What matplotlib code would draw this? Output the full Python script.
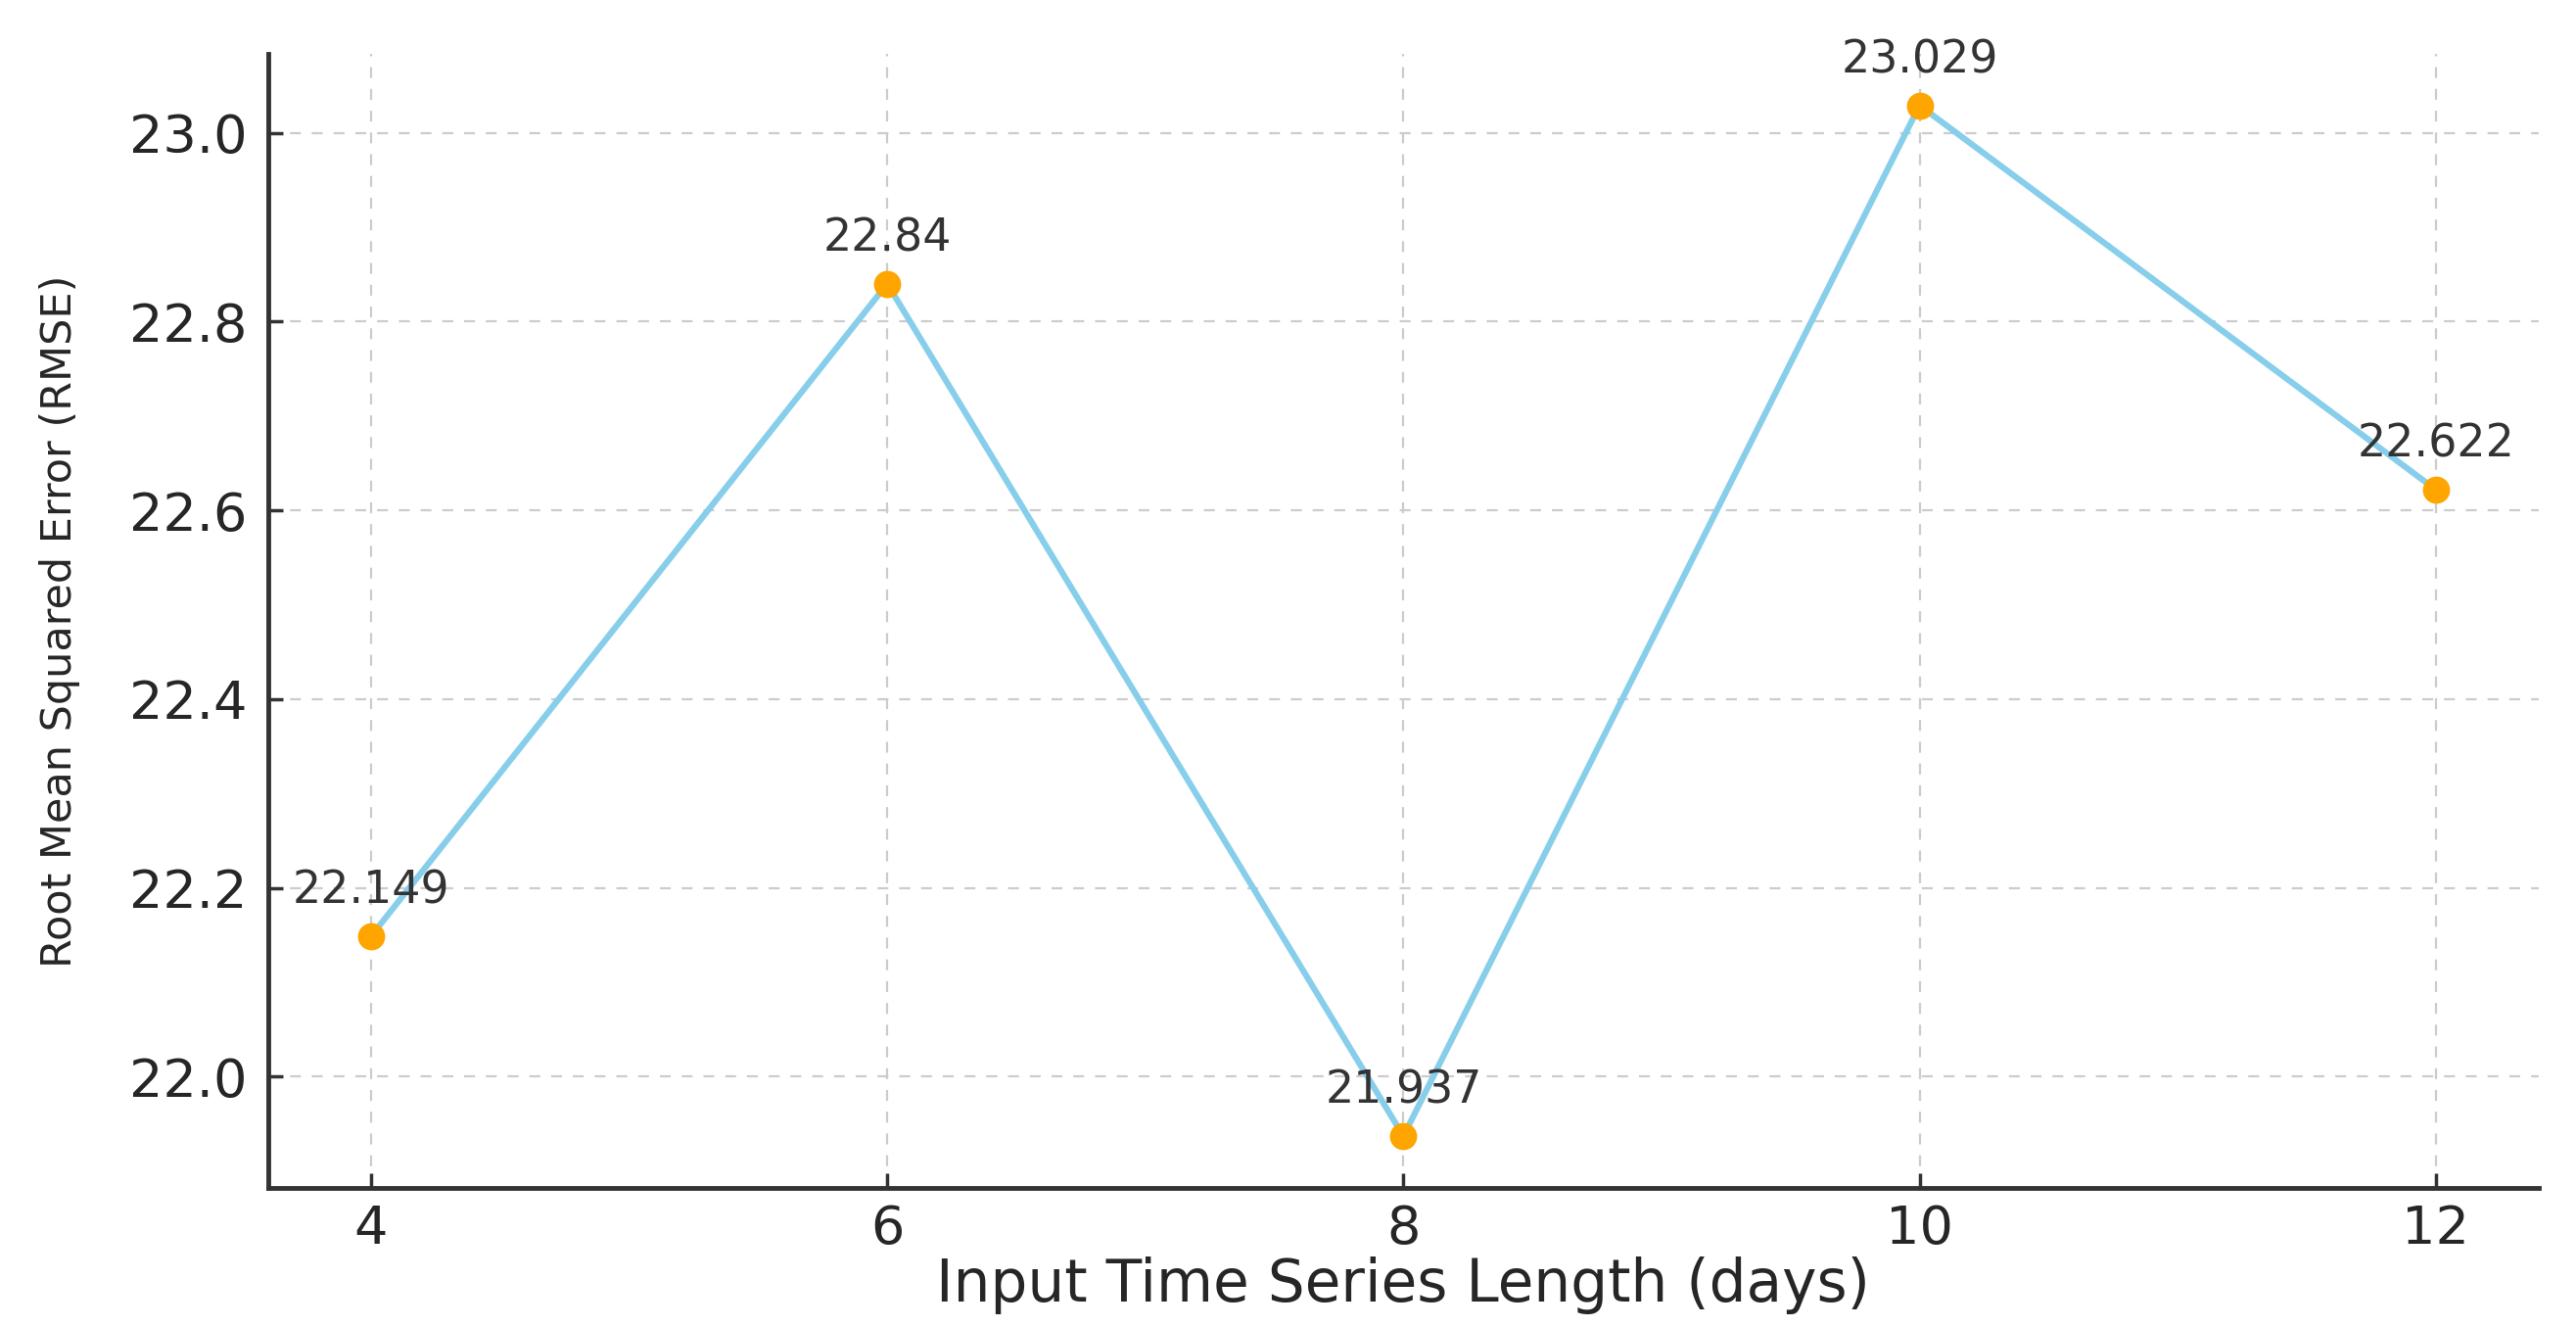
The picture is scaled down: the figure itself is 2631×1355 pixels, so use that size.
import matplotlib
matplotlib.use("Agg")
import matplotlib.pyplot as plt

# input length (days) vs RMSE
days = [4, 6, 8, 10, 12]
rmse = [22.149, 22.84, 21.937, 23.029, 22.622]
labels = ["22.149", "22.84", "21.937", "23.029", "22.622"]

fig = plt.figure(figsize=(26.31, 13.55), dpi=100)
ax = fig.add_axes([0.104, 0.105, 0.8816, 0.8544])

ax.plot(days, rmse, color="skyblue", linewidth=4.5, zorder=2)
ax.plot(days, rmse, "o", color="orange", markersize=19, zorder=3)

for x, y, s in zip(days, rmse, labels):
    ax.annotate(s, (x, y), xytext=(0, 24), textcoords="offset points",
                ha="center", fontsize=33, color="#333333")

ax.set_xticks(days)
ax.set_yticks([22.0, 22.2, 22.4, 22.6, 22.8, 23.0])
ax.set_yticklabels(["22.0", "22.2", "22.4", "22.6", "22.8", "23.0"])

ax.grid(True, color="#cccccc", linestyle=(0, (5, 5)), linewidth=1.6)
ax.set_axisbelow(True)

for side in ["top", "right"]:
    ax.spines[side].set_visible(False)
for side in ["left", "bottom"]:
    ax.spines[side].set_linewidth(3.5)
    ax.spines[side].set_color("#333333")

ax.tick_params(axis="both", direction="in", length=11, width=2.5,
               color="#333333", labelcolor="#262626", labelsize=39)
ax.tick_params(axis="y", pad=15)
ax.tick_params(axis="x", pad=12)

ax.set_xlabel("Input Time Series Length (days)", fontsize=43, color="#262626", labelpad=1)
ax.set_ylabel("Root Mean Squared Error (RMSE)", fontsize=31, color="#262626", labelpad=36)

fig.savefig("out.png", dpi=100, facecolor="white")
